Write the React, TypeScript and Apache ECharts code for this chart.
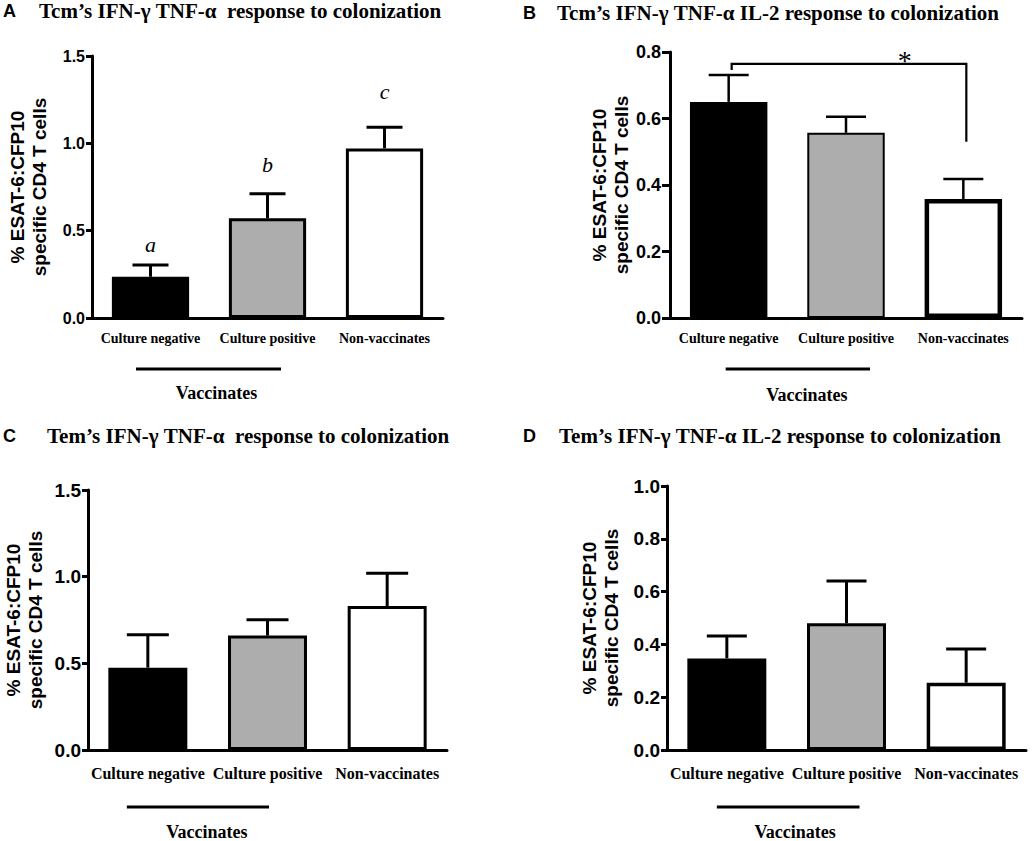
import React, { useEffect, useRef } from "react";
import * as echarts from "echarts";

// ---------- data ----------
const categories = ["Culture negative", "Culture positive", "Non-vaccinates"];
const barColors = ["#000000", "#adadad", "#ffffff"];

// Panel A: Tcm IFN-γ TNF-α
const tcmTnfMeans = [0.236, 0.571, 0.971];
const tcmTnfUpper = [0.303, 0.712, 1.092];
const tcmTnfLetters = ["a", "b", "c"];
const tcmTnfLetterPos = [0.418, 0.876, 1.294];

// Panel B: Tcm IFN-γ TNF-α IL-2
const tcmIl2Means = [0.65, 0.557, 0.358];
const tcmIl2Upper = [0.731, 0.605, 0.418];
const tcmIl2Bracket = { from: 0, to: 2, y: 0.764, leftEnd: 0.746, rightEnd: 0.53, label: "*" };

// Panel C: Tem IFN-γ TNF-α
const temTnfMeans = [0.475, 0.66, 0.831];
const temTnfUpper = [0.665, 0.752, 1.019];

// Panel D: Tem IFN-γ TNF-α IL-2
const temIl2Means = [0.347, 0.48, 0.255];
const temIl2Upper = [0.432, 0.64, 0.383];

const yAxisName = "% ESAT-6:CFP10\nspecific CD4 T cells";
const groupLabel = "Vaccinates";

// ---------- layout ----------
const SANS = "'Liberation Sans', Arial, Helvetica, sans-serif";
const SERIF = "'Liberation Serif', 'Times New Roman', Times, serif";

type Panel = {
  letter: string;
  title: string;
  letterX: number;
  titleX: number;
  titleY: number;
  grid: { left: number; top: number; width: number; height: number };
  yMax: number;
  yStep: number;
  means: number[];
  upper: number[];
  tickFont: number;
  tickLen: number;
  catFont: number;
  catMargin: number;
  nameGap: number;
  lineY: number;
  textY: number;
  lineL: number;
  lineR: number;
  textDx: number;
  border: number[];
  errWidth: number;
  cap: number;
};

const panels: Panel[] = [
  {
    letter: "A",
    title: "Tcm’s IFN-γ TNF-α  response to colonization",
    letterX: 3,
    titleX: 39,
    titleY: 0,
    grid: { left: 92, top: 56, width: 351, height: 262 },
    yMax: 1.5,
    yStep: 0.5,
    means: tcmTnfMeans,
    upper: tcmTnfUpper,
    tickFont: 16,
    tickLen: 6,
    catFont: 14,
    catMargin: 13,
    nameGap: 42,
    lineY: 51,
    textY: 75,
    lineL: -14.5,
    lineR: 13.5,
    textDx: 8,
    border: [3, 3, 3],
    errWidth: 3,
    cap: 36,
  },
  {
    letter: "B",
    title: "Tcm’s IFN-γ TNF-α IL-2 response to colonization",
    letterX: 523,
    titleX: 557,
    titleY: 2,
    grid: { left: 670, top: 52, width: 352, height: 266 },
    yMax: 0.8,
    yStep: 0.2,
    means: tcmIl2Means,
    upper: tcmIl2Upper,
    tickFont: 18,
    tickLen: 8,
    catFont: 14,
    catMargin: 13,
    nameGap: 37,
    lineY: 51,
    textY: 77,
    lineL: -3,
    lineR: 24,
    textDx: 9,
    border: [2, 2, 4.5],
    errWidth: 2.5,
    cap: 40,
  },
  {
    letter: "C",
    title: "Tem’s IFN-γ TNF-α  response to colonization",
    letterX: 3,
    titleX: 47,
    titleY: 425,
    grid: { left: 88, top: 490, width: 359, height: 260 },
    yMax: 1.5,
    yStep: 0.5,
    means: temTnfMeans,
    upper: temTnfUpper,
    tickFont: 19,
    tickLen: 6,
    catFont: 16,
    catMargin: 15,
    nameGap: 42,
    lineY: 57,
    textY: 82,
    lineL: -21,
    lineR: 1.5,
    textDx: 9,
    border: [3, 3, 3],
    errWidth: 3,
    cap: 42,
  },
  {
    letter: "D",
    title: "Tem’s IFN-γ TNF-α IL-2 response to colonization",
    letterX: 523,
    titleX: 559,
    titleY: 425,
    grid: { left: 667, top: 486, width: 359, height: 264 },
    yMax: 1.0,
    yStep: 0.2,
    means: temIl2Means,
    upper: temIl2Upper,
    tickFont: 19,
    tickLen: 6,
    catFont: 16,
    catMargin: 15,
    nameGap: 45,
    lineY: 57,
    textY: 82,
    lineL: -10,
    lineR: 13,
    textDx: 7,
    border: [3, 3, 3.5],
    errWidth: 3,
    cap: 40,
  },
];

function buildOption() {
  const title: any[] = [];
  const grid: any[] = [];
  const xAxis: any[] = [];
  const yAxis: any[] = [];
  const series: any[] = [];

  panels.forEach((p, i) => {
    title.push({
      text: p.letter,
      left: p.letterX,
      top: p.titleY + 2,
      padding: 0,
      textStyle: { fontFamily: SANS, fontWeight: "bold", fontSize: 18, color: "#000" },
    });
    title.push({
      text: p.title,
      left: p.titleX,
      top: p.titleY,
      padding: 0,
      textStyle: { fontFamily: SERIF, fontWeight: "bold", fontSize: 21, color: "#000" },
    });
    grid.push({ ...p.grid });
    xAxis.push({
      type: "category",
      gridIndex: i,
      data: categories,
      axisTick: { show: false },
      axisLine: { lineStyle: { color: "#000", width: 3 } },
      axisLabel: {
        interval: 0,
        margin: p.catMargin,
        fontFamily: SERIF,
        fontWeight: "bold",
        fontSize: p.catFont,
        color: "#000",
      },
    });
    yAxis.push({
      type: "value",
      gridIndex: i,
      min: 0,
      max: p.yMax,
      interval: p.yStep,
      splitLine: { show: false },
      axisLine: { show: true, lineStyle: { color: "#000", width: 3 } },
      axisTick: { show: true, length: p.tickLen, lineStyle: { color: "#000", width: 3 } },
      axisLabel: {
        margin: p.tickLen + 1,
        formatter: (v: number) => v.toFixed(1),
        fontFamily: SANS,
        fontWeight: "bold",
        fontSize: p.tickFont,
        color: "#000",
      },
      name: yAxisName,
      nameLocation: "middle",
      nameRotate: 90,
      nameGap: p.nameGap,
      nameTextStyle: {
        fontFamily: SANS,
        fontWeight: "bold",
        fontSize: 19,
        lineHeight: 22,
        color: "#000",
        align: "center",
      },
    });
    series.push({
      type: "bar",
      xAxisIndex: i,
      yAxisIndex: i,
      barWidth: "66%",
      z: 2,
      data: p.means.map((v, j) => ({
        value: v,
        itemStyle: { color: barColors[j], borderColor: "#000", borderWidth: p.border[j] },
      })),
    });
    // error bars (upper only)
    series.push({
      type: "custom",
      xAxisIndex: i,
      yAxisIndex: i,
      z: 3,
      clip: false,
      silent: true,
      data: p.means.map((v, j) => [j, v, p.upper[j]]),
      renderItem: (params: any, api: any) => {
        const x = api.value(0);
        const p0 = api.coord([x, api.value(1)]);
        const p1 = api.coord([x, api.value(2)]);
        const half = p.cap / 2;
        const st = { stroke: "#000", lineWidth: p.errWidth };
        return {
          type: "group",
          children: [
            { type: "line", shape: { x1: p0[0], y1: p0[1], x2: p1[0], y2: p1[1] }, style: st },
            { type: "line", shape: { x1: p1[0] - half, y1: p1[1], x2: p1[0] + half, y2: p1[1] }, style: st },
          ],
        };
      },
    });
    // vaccinates grouping line + label
    series.push({
      type: "custom",
      xAxisIndex: i,
      yAxisIndex: i,
      z: 3,
      clip: false,
      silent: true,
      data: [[0, 0]],
      renderItem: (params: any, api: any) => {
        const a = api.coord([0, 0]);
        const b = api.coord([1, 0]);
        const x1 = a[0] + p.lineL;
        const x2 = b[0] + p.lineR;
        return {
          type: "group",
          children: [
            {
              type: "line",
              shape: { x1, y1: a[1] + p.lineY, x2, y2: a[1] + p.lineY },
              style: { stroke: "#000", lineWidth: 3 },
            },
            {
              type: "text",
              x: (x1 + x2) / 2 + p.textDx,
              y: a[1] + p.textY,
              style: {
                text: groupLabel,
                fill: "#000",
                font: `bold 18px ${SERIF}`,
                textAlign: "center",
                textVerticalAlign: "middle",
              },
            },
          ],
        };
      },
    });
  });

  // letters for panel A
  series.push({
    type: "custom",
    xAxisIndex: 0,
    yAxisIndex: 0,
    z: 4,
    clip: false,
    silent: true,
    data: tcmTnfLetterPos.map((y, j) => [j, y]),
    renderItem: (params: any, api: any) => {
      const c = api.coord([api.value(0), api.value(1)]);
      return {
        type: "text",
        x: c[0],
        y: c[1],
        style: {
          text: tcmTnfLetters[params.dataIndex],
          fill: "#000",
          font: `italic 22px ${SERIF}`,
          textAlign: "center",
          textVerticalAlign: "middle",
        },
      };
    },
  });

  // significance bracket for panel B
  series.push({
    type: "custom",
    xAxisIndex: 1,
    yAxisIndex: 1,
    z: 4,
    clip: false,
    silent: true,
    data: [[tcmIl2Bracket.from, tcmIl2Bracket.y]],
    renderItem: (params: any, api: any) => {
      const l = api.coord([tcmIl2Bracket.from, tcmIl2Bracket.y]);
      const r = api.coord([tcmIl2Bracket.to, tcmIl2Bracket.y]);
      const le = api.coord([tcmIl2Bracket.from, tcmIl2Bracket.leftEnd]);
      const re = api.coord([tcmIl2Bracket.to, tcmIl2Bracket.rightEnd]);
      const m1 = api.coord([tcmIl2Bracket.to - 1, tcmIl2Bracket.y]);
      const st = { stroke: "#000", lineWidth: 2.2, fill: "none" };
      return {
        type: "group",
        children: [
          {
            type: "polyline",
            shape: {
              points: [
                [le[0] + 3, le[1]],
                [l[0] + 3, l[1]],
                [r[0] + 3, r[1]],
                [re[0] + 3, re[1]],
              ],
            },
            style: st,
          },
          {
            type: "text",
            x: (m1[0] + r[0]) / 2,
            y: l[1] - 3,
            style: {
              text: tcmIl2Bracket.label,
              fill: "#000",
              font: `28px ${SERIF}`,
              textAlign: "center",
              textVerticalAlign: "middle",
            },
          },
        ],
      };
    },
  });

  return { animation: false, backgroundColor: "#ffffff", title, grid, xAxis, yAxis, series };
}

export default function App() {
  const ref = useRef<HTMLDivElement>(null);
  useEffect(() => {
    document.body.style.margin = "0";
    if (!ref.current) return;
    const chart = echarts.init(ref.current, null, { renderer: "svg" });
    chart.setOption(buildOption() as any);
    return () => chart.dispose();
  }, []);
  return <div ref={ref} style={{ width: 1034, height: 841 }} />;
}
